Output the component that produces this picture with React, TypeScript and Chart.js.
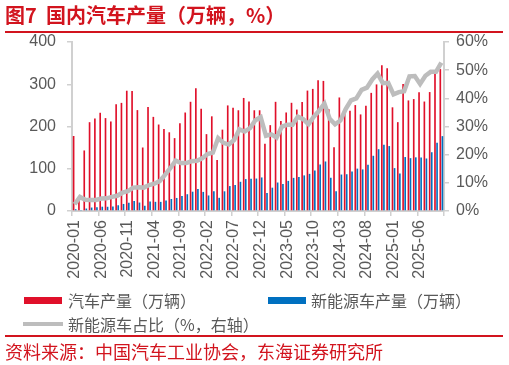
import React, { useEffect, useRef } from 'react';
import { Chart, registerables } from 'chart.js';

Chart.register(...registerables);

// ---- data ----
const months: string[] = [
  '2020-01', '2020-02', '2020-03', '2020-04', '2020-05', '2020-06', '2020-07', '2020-08', '2020-09', '2020-10', '2020-11', '2020-12',
  '2021-01', '2021-02', '2021-03', '2021-04', '2021-05', '2021-06', '2021-07', '2021-08', '2021-09', '2021-10', '2021-11', '2021-12',
  '2022-01', '2022-02', '2022-03', '2022-04', '2022-05', '2022-06', '2022-07', '2022-08', '2022-09', '2022-10', '2022-11', '2022-12',
  '2023-01', '2023-02', '2023-03', '2023-04', '2023-05', '2023-06', '2023-07', '2023-08', '2023-09', '2023-10', '2023-11', '2023-12',
  '2024-01', '2024-02', '2024-03', '2024-04', '2024-05', '2024-06', '2024-07', '2024-08', '2024-09', '2024-10', '2024-11', '2024-12',
  '2025-01', '2025-02', '2025-03', '2025-04', '2025-05', '2025-06', '2025-07', '2025-08', '2025-09', '2025-10',
];

// 汽车产量（万辆）
const totalProduction: number[] = [
  177.5, 28.5, 143.3, 210.2, 218.7, 232.5, 219.9, 211.9, 252.6, 255.9, 284.7, 284.0,
  238.8, 150.3, 246.4, 222.8, 204.7, 194.3, 186.3, 172.5, 207.7, 233.1, 258.5, 290.7,
  242.1, 181.9, 224.1, 120.5, 192.6, 249.9, 244.5, 238.4, 267.6, 259.2, 238.4, 238.4,
  159.4, 203.2, 258.4, 213.3, 233.2, 256.1, 240.1, 258.2, 285.0, 289.0, 309.3, 307.9,
  241.0, 150.9, 268.7, 232.0, 237.2, 250.7, 228.6, 249.2, 279.6, 299.6, 344.8, 338.0,
  245.4, 210.3, 300.6, 261.7, 264.9, 280.9, 259.1, 281.5, 327.6, 335.9,
];

// 新能源车产量（万辆）
const nevProduction: number[] = [
  4.2, 1.4, 5.8, 8.2, 8.6, 10.2, 10.0, 10.5, 13.6, 16.7, 19.8, 23.5,
  20.0, 12.4, 22.6, 21.7, 21.6, 24.8, 28.4, 30.9, 35.3, 39.7, 45.7, 51.8,
  45.2, 36.8, 46.5, 31.2, 46.6, 59.0, 61.7, 69.1, 75.5, 76.2, 76.8, 79.4,
  42.5, 55.2, 67.4, 64.0, 71.3, 78.4, 80.5, 84.3, 87.9, 95.9, 110.2, 117.2,
  78.7, 46.5, 86.3, 87.0, 93.2, 100.3, 98.4, 109.2, 130.7, 146.3, 156.6, 153.7,
  101.5, 88.8, 127.7, 125.1, 127.0, 126.8, 124.3, 139.1, 161.7, 177.2,
];

// 新能源车占比（%，右轴）
const nevShare: number[] = [
  2.4, 5.0, 4.0, 3.9, 3.9, 4.4, 4.5, 5.0, 5.4, 6.5, 7.0, 8.3,
  8.4, 8.3, 9.2, 9.7, 10.6, 12.8, 15.2, 17.9, 17.0, 17.0, 17.7, 17.8,
  18.7, 20.2, 20.7, 25.9, 24.2, 23.6, 25.2, 29.0, 28.2, 29.4, 32.2, 33.3,
  26.7, 27.2, 26.1, 30.0, 30.6, 30.6, 33.5, 32.6, 30.8, 33.5, 35.6, 38.1,
  32.7, 30.8, 32.1, 36.2, 39.3, 40.0, 43.0, 43.8, 46.7, 48.8, 45.4, 45.5,
  41.4, 42.2, 42.5, 47.8, 47.9, 45.1, 48.0, 49.4, 49.4, 52.7,
];

const xLabelEvery = 5;
const leftAxisMax = 400;
const leftAxisStep = 100;
const rightAxisMax = 60;
const rightAxisStep = 10;

const TITLE = '图7  国内汽车产量（万辆，%）';
const LEGEND_TOTAL = '汽车产量（万辆）';
const LEGEND_NEV = '新能源车产量（万辆）';
const LEGEND_SHARE = '新能源车占比（%，右轴）';
const SOURCE = '资料来源：中国汽车工业协会，东海证券研究所';

const RED = '#D2141E';
const BAR_RED = '#E0102A';
const BAR_BLUE = '#0070C0';
const LINE_GRAY = '#BDBDBD';
const AXIS_GRAY = '#D0D0D0';
const TEXT_GRAY = '#595959';
const CJK = '"Noto Sans CJK SC", "Noto Sans", sans-serif';
const LATIN = '"Liberation Sans", Arial, sans-serif';

export default function App() {
  const canvasRef = useRef<HTMLCanvasElement | null>(null);

  useEffect(() => {
    const canvas = canvasRef.current;
    if (!canvas) return;
    const tickFont = { family: LATIN, size: 16 };
    const chart = new Chart(canvas, {
      type: 'bar',
      data: {
        labels: months,
        datasets: [
          {
            type: 'line',
            label: LEGEND_SHARE,
            data: nevShare,
            yAxisID: 'y1',
            borderColor: LINE_GRAY,
            backgroundColor: LINE_GRAY,
            borderWidth: 4.5,
            pointRadius: 0,
            tension: 0,
            order: 0,
          } as any,
          {
            type: 'bar',
            label: LEGEND_TOTAL,
            data: totalProduction,
            yAxisID: 'y',
            backgroundColor: BAR_RED,
            categoryPercentage: 0.78,
            barPercentage: 0.8,
            order: 1,
          },
          {
            type: 'bar',
            label: LEGEND_NEV,
            data: nevProduction,
            yAxisID: 'y',
            backgroundColor: BAR_BLUE,
            categoryPercentage: 0.78,
            barPercentage: 0.8,
            order: 1,
          },
        ],
      },
      options: {
        responsive: false,
        animation: false,
        layout: { padding: { top: 42, left: 0, right: 0, bottom: 0 } },
        plugins: {
          legend: { display: false },
          tooltip: { enabled: false },
          title: { display: false },
        },
        scales: {
          x: {
            offset: true,
            grid: {
              display: true,
              drawOnChartArea: false,
              drawTicks: true,
              tickLength: 5,
              offset: true,
              lineWidth: 1.5,
              color: (c: any) =>
                c.index === undefined || c.index % xLabelEvery === 0 ? AXIS_GRAY : 'rgba(0,0,0,0)',
            },
            border: { display: true, color: AXIS_GRAY, width: 2 },
            ticks: {
              autoSkip: false,
              maxRotation: 90,
              minRotation: 90,
              padding: 4,
              color: TEXT_GRAY,
              font: tickFont,
              callback: (_v: any, i: number) => (i % xLabelEvery === 0 ? months[i] : ''),
            },
            afterFit: (s: any) => {
              s.height = 79;
            },
          },
          y: {
            position: 'left',
            min: 0,
            max: leftAxisMax,
            grid: {
              display: true,
              drawOnChartArea: false,
              drawTicks: true,
              tickLength: 5,
              lineWidth: 1.5,
              color: AXIS_GRAY,
            },
            border: { display: true, color: AXIS_GRAY, width: 2 },
            ticks: {
              stepSize: leftAxisStep,
              padding: 11,
              color: TEXT_GRAY,
              font: tickFont,
            },
            afterFit: (s: any) => {
              s.width = 72;
            },
          },
          y1: {
            position: 'right',
            min: 0,
            max: rightAxisMax,
            grid: {
              display: true,
              drawOnChartArea: false,
              drawTicks: true,
              tickLength: 5,
              lineWidth: 1.5,
              color: AXIS_GRAY,
            },
            border: { display: true, color: AXIS_GRAY, width: 2 },
            ticks: {
              stepSize: rightAxisStep,
              padding: 7,
              color: TEXT_GRAY,
              font: tickFont,
              callback: (v: any) => `${v}%`,
            },
            afterFit: (s: any) => {
              s.width = 65;
            },
          },
        },
      },
    });
    return () => chart.destroy();
  }, []);

  const legendText: React.CSSProperties = {
    position: 'absolute',
    fontFamily: CJK,
    fontSize: 16,
    lineHeight: '20px',
    color: TEXT_GRAY,
    whiteSpace: 'pre',
  };

  return (
    <div
      style={{
        position: 'absolute',
        left: 0,
        top: 0,
        width: 509,
        height: 365,
        background: '#ffffff',
        overflow: 'hidden',
      }}
    >
      <canvas
        ref={canvasRef}
        width={509}
        height={290}
        style={{ position: 'absolute', left: 0, top: 0, width: 509, height: 290 }}
      />
      <div
        style={{
          position: 'absolute',
          left: 5,
          top: 3,
          fontFamily: CJK,
          fontWeight: 700,
          fontSize: 20,
          lineHeight: '24px',
          color: RED,
          whiteSpace: 'pre',
        }}
      >
        {TITLE}
      </div>
      <div style={{ position: 'absolute', left: 5, top: 31, width: 498, height: 2, background: RED }} />

      <div style={{ position: 'absolute', left: 24, top: 297, width: 38, height: 7, background: BAR_RED }} />
      <div style={{ ...legendText, left: 68, top: 290 }}>{LEGEND_TOTAL}</div>
      <div style={{ position: 'absolute', left: 268, top: 297, width: 38, height: 7, background: BAR_BLUE }} />
      <div style={{ ...legendText, left: 311, top: 290 }}>{LEGEND_NEV}</div>
      <div style={{ position: 'absolute', left: 23, top: 322, width: 40, height: 4, background: LINE_GRAY }} />
      <div style={{ ...legendText, left: 68, top: 314 }}>{LEGEND_SHARE}</div>

      <div style={{ position: 'absolute', left: 5, top: 335, width: 498, height: 2, background: RED }} />
      <div
        style={{
          position: 'absolute',
          left: 5,
          top: 340,
          fontFamily: CJK,
          fontSize: 18,
          lineHeight: '22px',
          color: RED,
          whiteSpace: 'pre',
        }}
      >
        {SOURCE}
      </div>
    </div>
  );
}
